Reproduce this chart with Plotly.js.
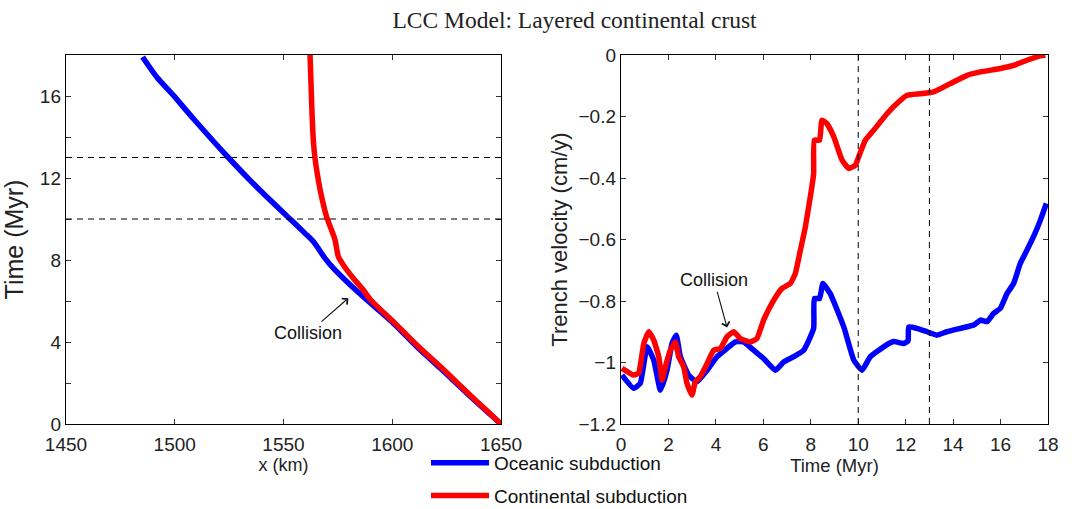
<!DOCTYPE html>
<html>
<head>
<meta charset="utf-8">
<script src="https://cdn.plot.ly/plotly-3.0.1.min.js"></script>
<style>html,body{margin:0;padding:0;background:#fff;}#chart{width:1072px;height:509px;}</style>
</head>
<body>
<div id="chart"></div>
<script>
// ---- Data ----
const chartTitle = 'LCC Model: Layered continental crust';
const seriesNames = ['Oceanic subduction', 'Continental subduction'];
const collisionTimes = [10, 13];

// Left panel: trench position x (km) vs time (Myr)
const leftOceanicX = [1650, 1643.4, 1634.2, 1622.0, 1611.2, 1600.5, 1588.2, 1580.6, 1572.9, 1569.1, 1563.7, 1559.9, 1553.0, 1539.2, 1524.6, 1508.5, 1499.3, 1491.7, 1485.2];
const leftOceanicT = [0, 0.62, 1.51, 2.73, 3.78, 4.92, 6.06, 6.79, 7.6, 8.08, 8.9, 9.3, 10.0, 11.4, 13.0, 14.9, 16.04, 16.93, 17.9];
const leftContX = [1650, 1643.8, 1634.8, 1622.8, 1612.0, 1601.2, 1590.0, 1586.7, 1582.1, 1577.5, 1575.2, 1573.7, 1572.1, 1569.8, 1567.5, 1566.0, 1564.5, 1563.7, 1563.0, 1562.2];
const leftContT = [0, 0.62, 1.51, 2.73, 3.78, 4.92, 6.06, 6.54, 7.11, 7.76, 8.17, 8.98, 9.46, 10.11, 11.09, 11.9, 12.95, 13.85, 15.47, 18];

// Right panel: trench velocity (cm/y) vs time (Myr)
const rightOceanicT = [0.04, 0.53, 0.81, 1.1, 1.38, 1.66, 1.94, 2.15, 2.33, 2.5, 2.85, 3.2, 3.63, 4.05, 4.47, 4.82, 5.17, 5.59, 6.01, 6.51, 6.86, 7.28, 7.7, 8.12, 8.15, 8.37, 8.51, 8.82, 9.39, 9.81, 10.16, 10.51, 11.07, 11.49, 11.92, 12.1, 12.13, 12.47, 12.9, 13.32, 13.74, 14.3, 14.87, 15.15, 15.43, 15.71, 15.99, 16.27, 16.55, 16.83, 17.11, 17.39, 17.68, 17.93];
const rightOceanicV = [-1.041, -1.084, -1.068, -0.949, -0.992, -1.09, -1.025, -0.938, -0.911, -0.981, -1.041, -1.063, -1.025, -0.981, -0.954, -0.933, -0.933, -0.96, -0.987, -1.025, -0.998, -0.981, -0.96, -0.889, -0.792, -0.792, -0.743, -0.776, -0.884, -0.992, -1.025, -0.981, -0.949, -0.932, -0.938, -0.93, -0.884, -0.889, -0.9, -0.911, -0.9, -0.889, -0.878, -0.862, -0.867, -0.84, -0.824, -0.776, -0.743, -0.678, -0.635, -0.591, -0.537, -0.483];
const rightContT = [0.04, 0.53, 0.74, 0.96, 1.17, 1.38, 1.59, 1.73, 1.87, 2.08, 2.29, 2.43, 2.64, 2.78, 2.99, 3.13, 3.34, 3.63, 3.91, 4.19, 4.47, 4.75, 5.03, 5.45, 5.73, 6.01, 6.44, 6.79, 7.14, 7.35, 7.56, 7.77, 7.98, 8.12, 8.15, 8.37, 8.47, 8.68, 8.97, 9.32, 9.6, 9.88, 10.02, 10.3, 10.65, 11.21, 11.7, 12.06, 12.62, 13.18, 13.88, 14.59, 15.15, 15.99, 16.55, 17.11, 17.68, 17.89];
const rightContV = [-1.019, -1.041, -1.035, -0.938, -0.9, -0.927, -0.981, -1.057, -1.014, -0.96, -0.933, -0.981, -1.014, -1.068, -1.106, -1.063, -1.046, -1.003, -0.96, -0.954, -0.916, -0.9, -0.922, -0.933, -0.922, -0.862, -0.797, -0.759, -0.743, -0.71, -0.635, -0.559, -0.461, -0.386, -0.277, -0.277, -0.212, -0.223, -0.266, -0.342, -0.369, -0.358, -0.331, -0.277, -0.245, -0.191, -0.153, -0.131, -0.126, -0.12, -0.093, -0.066, -0.055, -0.044, -0.034, -0.017, -0.003, -0.001];

// Tick labels
const leftXTicks = [1450, 1500, 1550, 1600, 1650];
const leftYTickVals = [0, 2, 4, 6, 8, 10, 12, 14, 16, 18];
const leftYTickText = ['0', '', '4', '', '8', '', '12', '', '16', ''];
const rightXTicks = [0, 2, 4, 6, 8, 10, 12, 14, 16, 18];
const rightYTickVals = [-1.2, -1, -0.8, -0.6, -0.4, -0.2, 0];
const rightYTickText = ['\u22121.2', '\u22121', '\u22120.8', '\u22120.6', '\u22120.4', '\u22120.2', '0'];

// Annotations
const leftArrow = {x: 1579.8, y: 6.14, text: 'Collision'};
const rightArrow = {x: 4.47, y: -0.886, text: 'Collision'};

// ---- Styling ----
const BLUE = '#0000ff', RED = '#ff0000';
const LW = 5.5;
const FONT = 'Liberation Sans, Arial, sans-serif';
const tickFont = {family: FONT, size: 19, color: '#222'};

const traces = [
  {x: leftOceanicX, y: leftOceanicT, xaxis: 'x', yaxis: 'y', mode: 'lines', name: seriesNames[0],
   line: {color: BLUE, width: LW, shape: 'spline', smoothing: 0.8}, legendgroup: 'a', showlegend: true},
  {x: leftContX, y: leftContT, xaxis: 'x', yaxis: 'y', mode: 'lines', name: seriesNames[1],
   line: {color: RED, width: LW, shape: 'spline', smoothing: 0.8}, legendgroup: 'b', showlegend: true},
  {x: rightOceanicT, y: rightOceanicV, xaxis: 'x2', yaxis: 'y2', mode: 'lines', name: seriesNames[0],
   line: {color: BLUE, width: LW, shape: 'spline', smoothing: 0.4}, legendgroup: 'a', showlegend: false},
  {x: rightContT, y: rightContV, xaxis: 'x2', yaxis: 'y2', mode: 'lines', name: seriesNames[1],
   line: {color: RED, width: LW, shape: 'spline', smoothing: 0.4}, legendgroup: 'b', showlegend: false}
];

const axisCommon = {
  showgrid: false, zeroline: false, showline: true, linecolor: '#000', linewidth: 1.2,
  mirror: 'ticks', ticks: 'inside', ticklen: 5, tickwidth: 1, tickcolor: '#333',
  tickfont: tickFont, tickangle: 0, automargin: false, fixedrange: true
};

const shapes = [];
collisionTimes.forEach(t => {
  shapes.push({type: 'line', xref: 'x domain', yref: 'y', x0: 0, x1: 1, y0: t, y1: t,
    line: {color: '#000', width: 1, dash: '6px,5px'}});
  shapes.push({type: 'line', xref: 'x2', yref: 'y2 domain', x0: t, x1: t, y0: 0, y1: 1,
    line: {color: '#000', width: 1, dash: '6px,5px'}});
});

const annFont = {family: FONT, size: 18, color: '#111'};

const layout = {
  width: 1072, height: 509,
  margin: {l: 66, r: 24, t: 55, b: 85, autoexpand: false},
  paper_bgcolor: '#fff', plot_bgcolor: '#fff',
  title: {text: chartTitle, font: {family: 'Liberation Serif, Times New Roman, serif', size: 23.5, color: '#222'},
          x: 0.536, xanchor: 'center', y: 0.961, yanchor: 'middle', xref: 'container', yref: 'container'},
  xaxis: Object.assign({}, axisCommon, {domain: [0, 0.443], range: [1450, 1650], tickvals: leftXTicks,
    ticklabelstandoff: 3, automargin: true,
    title: {text: 'x (km)', font: {family: FONT, size: 18, color: '#222'}, standoff: 0}}),
  yaxis: Object.assign({}, axisCommon, {domain: [0, 1], range: [0, 18], tickvals: leftYTickVals, ticktext: leftYTickText,
    title: {text: 'Time (Myr)', font: {family: FONT, size: 25, color: '#222'}}}),
  xaxis2: Object.assign({}, axisCommon, {domain: [0.5652, 1], range: [0, 18], tickvals: rightXTicks, anchor: 'y2',
    ticklabelstandoff: 3, automargin: true,
    title: {text: 'Time (Myr)', font: {family: FONT, size: 18.5, color: '#222'}, standoff: 0}}),
  yaxis2: Object.assign({}, axisCommon, {domain: [0, 1], range: [-1.2, 0], tickvals: rightYTickVals, ticktext: rightYTickText, anchor: 'x2',
    title: {text: 'Trench velocity (cm/y)', font: {family: FONT, size: 22, color: '#222'}}}),
  shapes: shapes,
  annotations: [
    {x: leftArrow.x, y: leftArrow.y, xref: 'x', yref: 'y', text: leftArrow.text, showarrow: true,
     arrowhead: 4, arrowsize: 1.4, arrowwidth: 1.1, arrowcolor: '#111', ax: -40, ay: 35, font: annFont},
    {x: rightArrow.x, y: rightArrow.y, xref: 'x2', yref: 'y2', text: rightArrow.text, showarrow: true,
     arrowhead: 4, arrowsize: 1.4, arrowwidth: 1.1, arrowcolor: '#111', ax: -13, ay: -47, font: annFont}
  ],
  showlegend: true,
  legend: {xref: 'paper', yref: 'paper', x: 0.3666, y: -0.0539, xanchor: 'left', yanchor: 'top',
    orientation: 'v', font: {family: FONT, size: 19, color: '#111'}, bgcolor: 'rgba(0,0,0,0)',
    itemwidth: 58, tracegroupgap: 5, traceorder: 'grouped'}
};

Plotly.newPlot('chart', traces, layout, {displayModeBar: false, staticPlot: true});
</script>
</body>
</html>
